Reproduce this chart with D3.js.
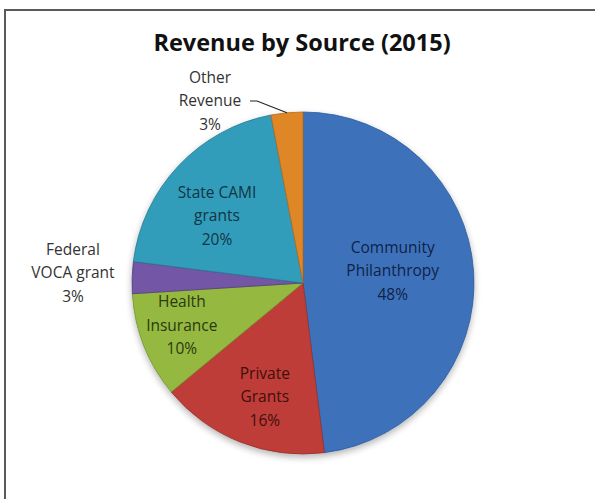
<!DOCTYPE html>
<html>
<head>
<meta charset="utf-8">
<script src="https://cdn.jsdelivr.net/npm/d3@7"></script>
<style>
  html, body { margin: 0; padding: 0; background: #fff; }
  svg { display: block; }
</style>
</head>
<body>
<svg id="chart" width="595" height="499"></svg>
<script>
// ---- data ----
const categories = ["Community Philanthropy", "Private Grants", "Health Insurance", "Federal VOCA grant", "State CAMI grants", "Other Revenue"];
const labelLines = [["Community", "Philanthropy"], ["Private", "Grants"], ["Health", "Insurance"], ["Federal", "VOCA grant"], ["State CAMI", "grants"], ["Other", "Revenue"]];
const values = [48, 16, 10, 3, 20, 3];
const title = "Revenue by Source (2015)";

// ---- styles / layout ----
const W = 595, H = 499;
const cx = 303, cy = 283, R = 171;
const colors = ["#447fd0", "#d4453f", "#a6cd46", "#8060b8", "#38afd0", "#f8962a"];
const darkColors = ["#2b5a9a", "#962e2a", "#71922c", "#54407e", "#25798f", "#b86a1c"];
const textColors = ["#0f2248", "#3e0f0d", "#2a3a12", "#333333", "#113542", "#333333"];
const labelPlace = {
  "Community Philanthropy": {r: 0.53, da: -4.5},
  "Private Grants": {r: 0.70, da: -3},
  "Health Insurance": {r: 0.75, da: 2.5},
  "State CAMI grants": {r: 0.64, da: -5}
};
const outside = {
  "Federal VOCA grant": {x: 73, y: 272},
  "Other Revenue": {x: 210, y: 100}
};

const svg = d3.select("#chart");
const defs = svg.append("defs");

// frame
svg.append("path")
  .attr("d", `M5,${H} L5,10 L${W},10`)
  .attr("fill", "none").attr("stroke", "#5a5a5a").attr("stroke-width", 2);

// title
svg.append("text")
  .attr("x", 302).attr("y", 51)
  .attr("text-anchor", "middle")
  .attr("font-family", "'Open Sans', sans-serif")
  .attr("font-weight", "bold")
  .attr("font-size", 23.5)
  .attr("fill", "#111")
  .text(title);

// shadow filter
const f = defs.append("filter").attr("id", "shadow").attr("x", "-20%").attr("y", "-20%").attr("width", "140%").attr("height", "140%");
f.append("feGaussianBlur").attr("in", "SourceAlpha").attr("stdDeviation", 3.5).attr("result", "b");
f.append("feOffset").attr("in", "b").attr("dx", 0).attr("dy", 3).attr("result", "o");
f.append("feComponentTransfer").attr("in", "o").attr("result", "s")
  .append("feFuncA").attr("type", "linear").attr("slope", 0.3);
const fm = f.append("feMerge");
fm.append("feMergeNode").attr("in", "s");
fm.append("feMergeNode").attr("in", "SourceGraphic");

// gradients per slice
colors.forEach((c, i) => {
  const g = defs.append("radialGradient").attr("id", "grad" + i)
    .attr("gradientUnits", "userSpaceOnUse")
    .attr("cx", cx).attr("cy", cy).attr("r", R);
  g.append("stop").attr("offset", "0%").attr("stop-color", d3.color(c).brighter(0.2));
  g.append("stop").attr("offset", "90%").attr("stop-color", c);
  g.append("stop").attr("offset", "100%").attr("stop-color", d3.color(c).darker(0.3));
});

const pie = d3.pie().sort(null).value(d => d.value).startAngle(0).endAngle(2 * Math.PI);
const data = categories.map((c, i) => ({name: c, value: values[i], i}));
const arcs = pie(data);
const arc = d3.arc().innerRadius(0).outerRadius(R);

const g = svg.append("g").attr("transform", `translate(${cx},${cy})`);
const slices = g.append("g").attr("filter", "url(#shadow)");
slices.selectAll("path").data(arcs).join("path")
  .attr("d", arc)
  .attr("fill", d => `url(#grad${d.data.i})`)
  .attr("stroke", d => darkColors[d.data.i])
  .attr("stroke-width", 0.8)
  .attr("stroke-linejoin", "round");

// labels
const total = d3.sum(values);
const fontSize = 15.5, lineH = 23.5;
function block(x, y, lines, color) {
  const t = svg.append("text")
    .attr("font-family", "'Open Sans', sans-serif")
    .attr("font-size", fontSize)
    .attr("fill", color)
    .attr("text-anchor", "middle");
  const n = lines.length;
  lines.forEach((ln, k) => {
    t.append("tspan").attr("x", x).attr("y", y + (k - (n - 1) / 2) * lineH)
      .attr("dominant-baseline", "central").text(ln);
  });
  return t;
}

arcs.forEach(d => {
  const i = d.data.i;
  const pct = Math.round(d.data.value / total * 100) + "%";
  const lines = labelLines[i].concat([pct]);
  if (labelPlace[d.data.name]) {
    const p = labelPlace[d.data.name];
    const a = (d.startAngle + d.endAngle) / 2 + p.da * Math.PI / 180;
    const x = cx + Math.sin(a) * R * p.r;
    const y = cy - Math.cos(a) * R * p.r;
    block(x, y, lines, textColors[i]);
  } else {
    const o = outside[d.data.name];
    block(o.x, o.y, lines, textColors[i]);
    if (d.data.name === "Other Revenue") {
      const a = (d.startAngle + d.endAngle) / 2;
      const ex = cx + Math.sin(a) * R, ey = cy - Math.cos(a) * R;
      svg.append("path")
        .attr("d", `M${o.x + 40},${o.y + 1} L${o.x + 47},${o.y + 1} L${ex},${ey}`)
        .attr("fill", "none").attr("stroke", "#222").attr("stroke-width", 1.2);
    }
  }
});
</script>
</body>
</html>
